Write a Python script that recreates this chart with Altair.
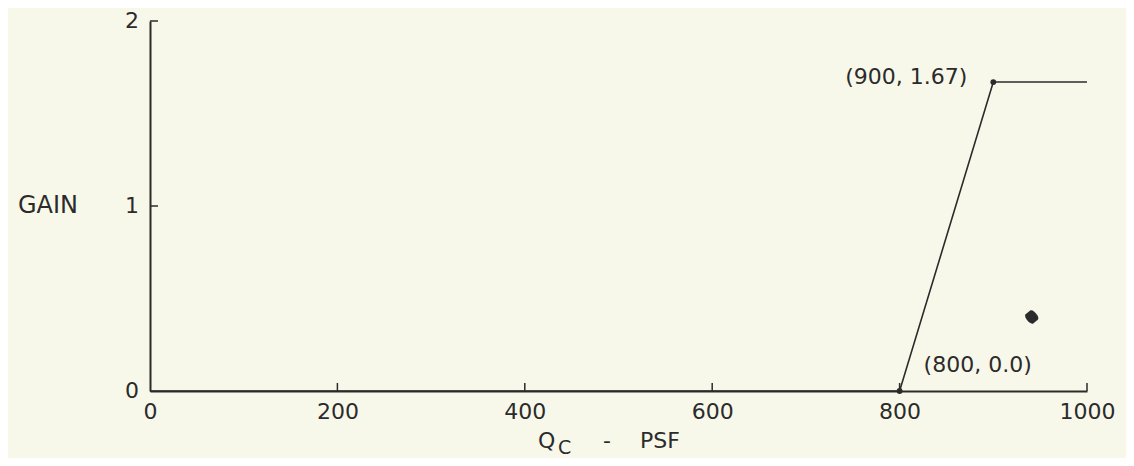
import altair as alt
import pandas as pd

# ---- data ----
q_c = [0, 800, 900, 1000]
gain = [0.0, 0.0, 1.67, 1.67]

pt_x = [800, 900]
pt_y = [0.0, 1.67]
pt_label = ["(800, 0.0)", "(900, 1.67)"]

x_ticks = [0, 200, 400, 600, 800, 1000]
y_ticks = [0, 1, 2]

speck_x = [941]
speck_y = [0.40]

INK = "#2b2b2b"
BG = "#f8f8ea"
FONT = "DejaVu Sans"
FS = 22
W, H = 937, 370

line_df = pd.DataFrame({"q": q_c, "g": gain})
pts_df = pd.DataFrame({"q": pt_x, "g": pt_y, "lab": pt_label})
xt_df = pd.DataFrame({"v": x_ticks[1:]})
yt_df = pd.DataFrame({"v": y_ticks[1:]})
ylab_df = pd.DataFrame({"v": y_ticks, "t": [str(v) for v in y_ticks]})
speck_df = pd.DataFrame({"q": speck_x, "g": speck_y})

xs = alt.Scale(domain=[0, 1000], nice=False, zero=False)
ys = alt.Scale(domain=[0, 2], nice=False, zero=False)

xaxis = alt.Axis(values=x_ticks, title=None, grid=False, ticks=False, tickSize=0,
                 labelPadding=10, labelFontSize=FS, labelFont=FONT, labelColor=INK,
                 domainColor=INK, domainWidth=2, labelFlush=False, labelOverlap=False,
                 format="d")
yaxis = alt.Axis(values=y_ticks, title=None, grid=False, ticks=False, tickSize=0,
                 labels=False, domainColor=INK, domainWidth=2)

base = alt.Chart(line_df)

line = base.mark_line(color=INK, strokeWidth=1.6).encode(
    x=alt.X("q:Q", scale=xs, axis=xaxis),
    y=alt.Y("g:Q", scale=ys, axis=yaxis),
)

ylabs = alt.Chart(ylab_df).mark_text(
    align="right", baseline="middle", dx=-11, fontSize=FS, font=FONT, color=INK
).encode(y=alt.Y("v:Q", scale=ys), x=alt.value(0), text="t:N")

pts = alt.Chart(pts_df).mark_circle(color=INK, size=34, opacity=1).encode(
    x=alt.X("q:Q", scale=xs), y=alt.Y("g:Q", scale=ys)
)

lab800 = alt.Chart(pts_df[pts_df.q == 800]).mark_text(
    align="left", baseline="middle", dx=24, dy=-26, fontSize=FS, font=FONT, color=INK
).encode(x=alt.X("q:Q", scale=xs), y=alt.Y("g:Q", scale=ys), text="lab:N")

lab900 = alt.Chart(pts_df[pts_df.q == 900]).mark_text(
    align="right", baseline="middle", dx=-26, dy=-5, fontSize=FS, font=FONT, color=INK
).encode(x=alt.X("q:Q", scale=xs), y=alt.Y("g:Q", scale=ys), text="lab:N")

xt = alt.Chart(xt_df).mark_rule(color=INK, strokeWidth=1.5).encode(
    x=alt.X("v:Q", scale=xs), y=alt.value(H), y2=alt.value(H - 8)
)
yt = alt.Chart(yt_df).mark_rule(color=INK, strokeWidth=1.5).encode(
    y=alt.Y("v:Q", scale=ys), x=alt.value(0), x2=alt.value(8)
)

speck = alt.Chart(speck_df).mark_point(
    shape="M-1,-0.5 C-1,-1.1 1,-1.1 1,-0.5 L1,0.5 C1,1.1 -1,1.1 -1,0.5 Z",
    filled=True, color=INK, opacity=1, size=140, angle=50
).encode(x=alt.X("q:Q", scale=xs), y=alt.Y("g:Q", scale=ys))

def label(txt, x, y, size=FS, align="left", baseline="alphabetic"):
    return alt.Chart(pd.DataFrame({"t": [txt]})).mark_text(
        align=align, baseline=baseline, fontSize=size, font=FONT, color=INK
    ).encode(text="t:N", x=alt.value(x), y=alt.value(y))

gain_t = label("GAIN", -102, 185, size=24, align="center", baseline="middle")
q_t = label("Q", 388, 427)
c_t = label("C", 408, 433, size=19)
dash_t = label("-", 453, 427)
psf_t = label("PSF", 490, 427)

chart = alt.layer(
    line, ylabs, xt, yt, pts, lab800, lab900, speck, gain_t, q_t, c_t, dash_t, psf_t
).properties(
    width=W, height=H,
    autosize=alt.AutoSizeParams(type="none"),
    padding={"left": 142, "top": 13, "right": 39, "bottom": 67},
    background=BG,
).configure_view(stroke=None)

chart.save("out.html", embed_options={"renderer": "svg", "actions": False})
